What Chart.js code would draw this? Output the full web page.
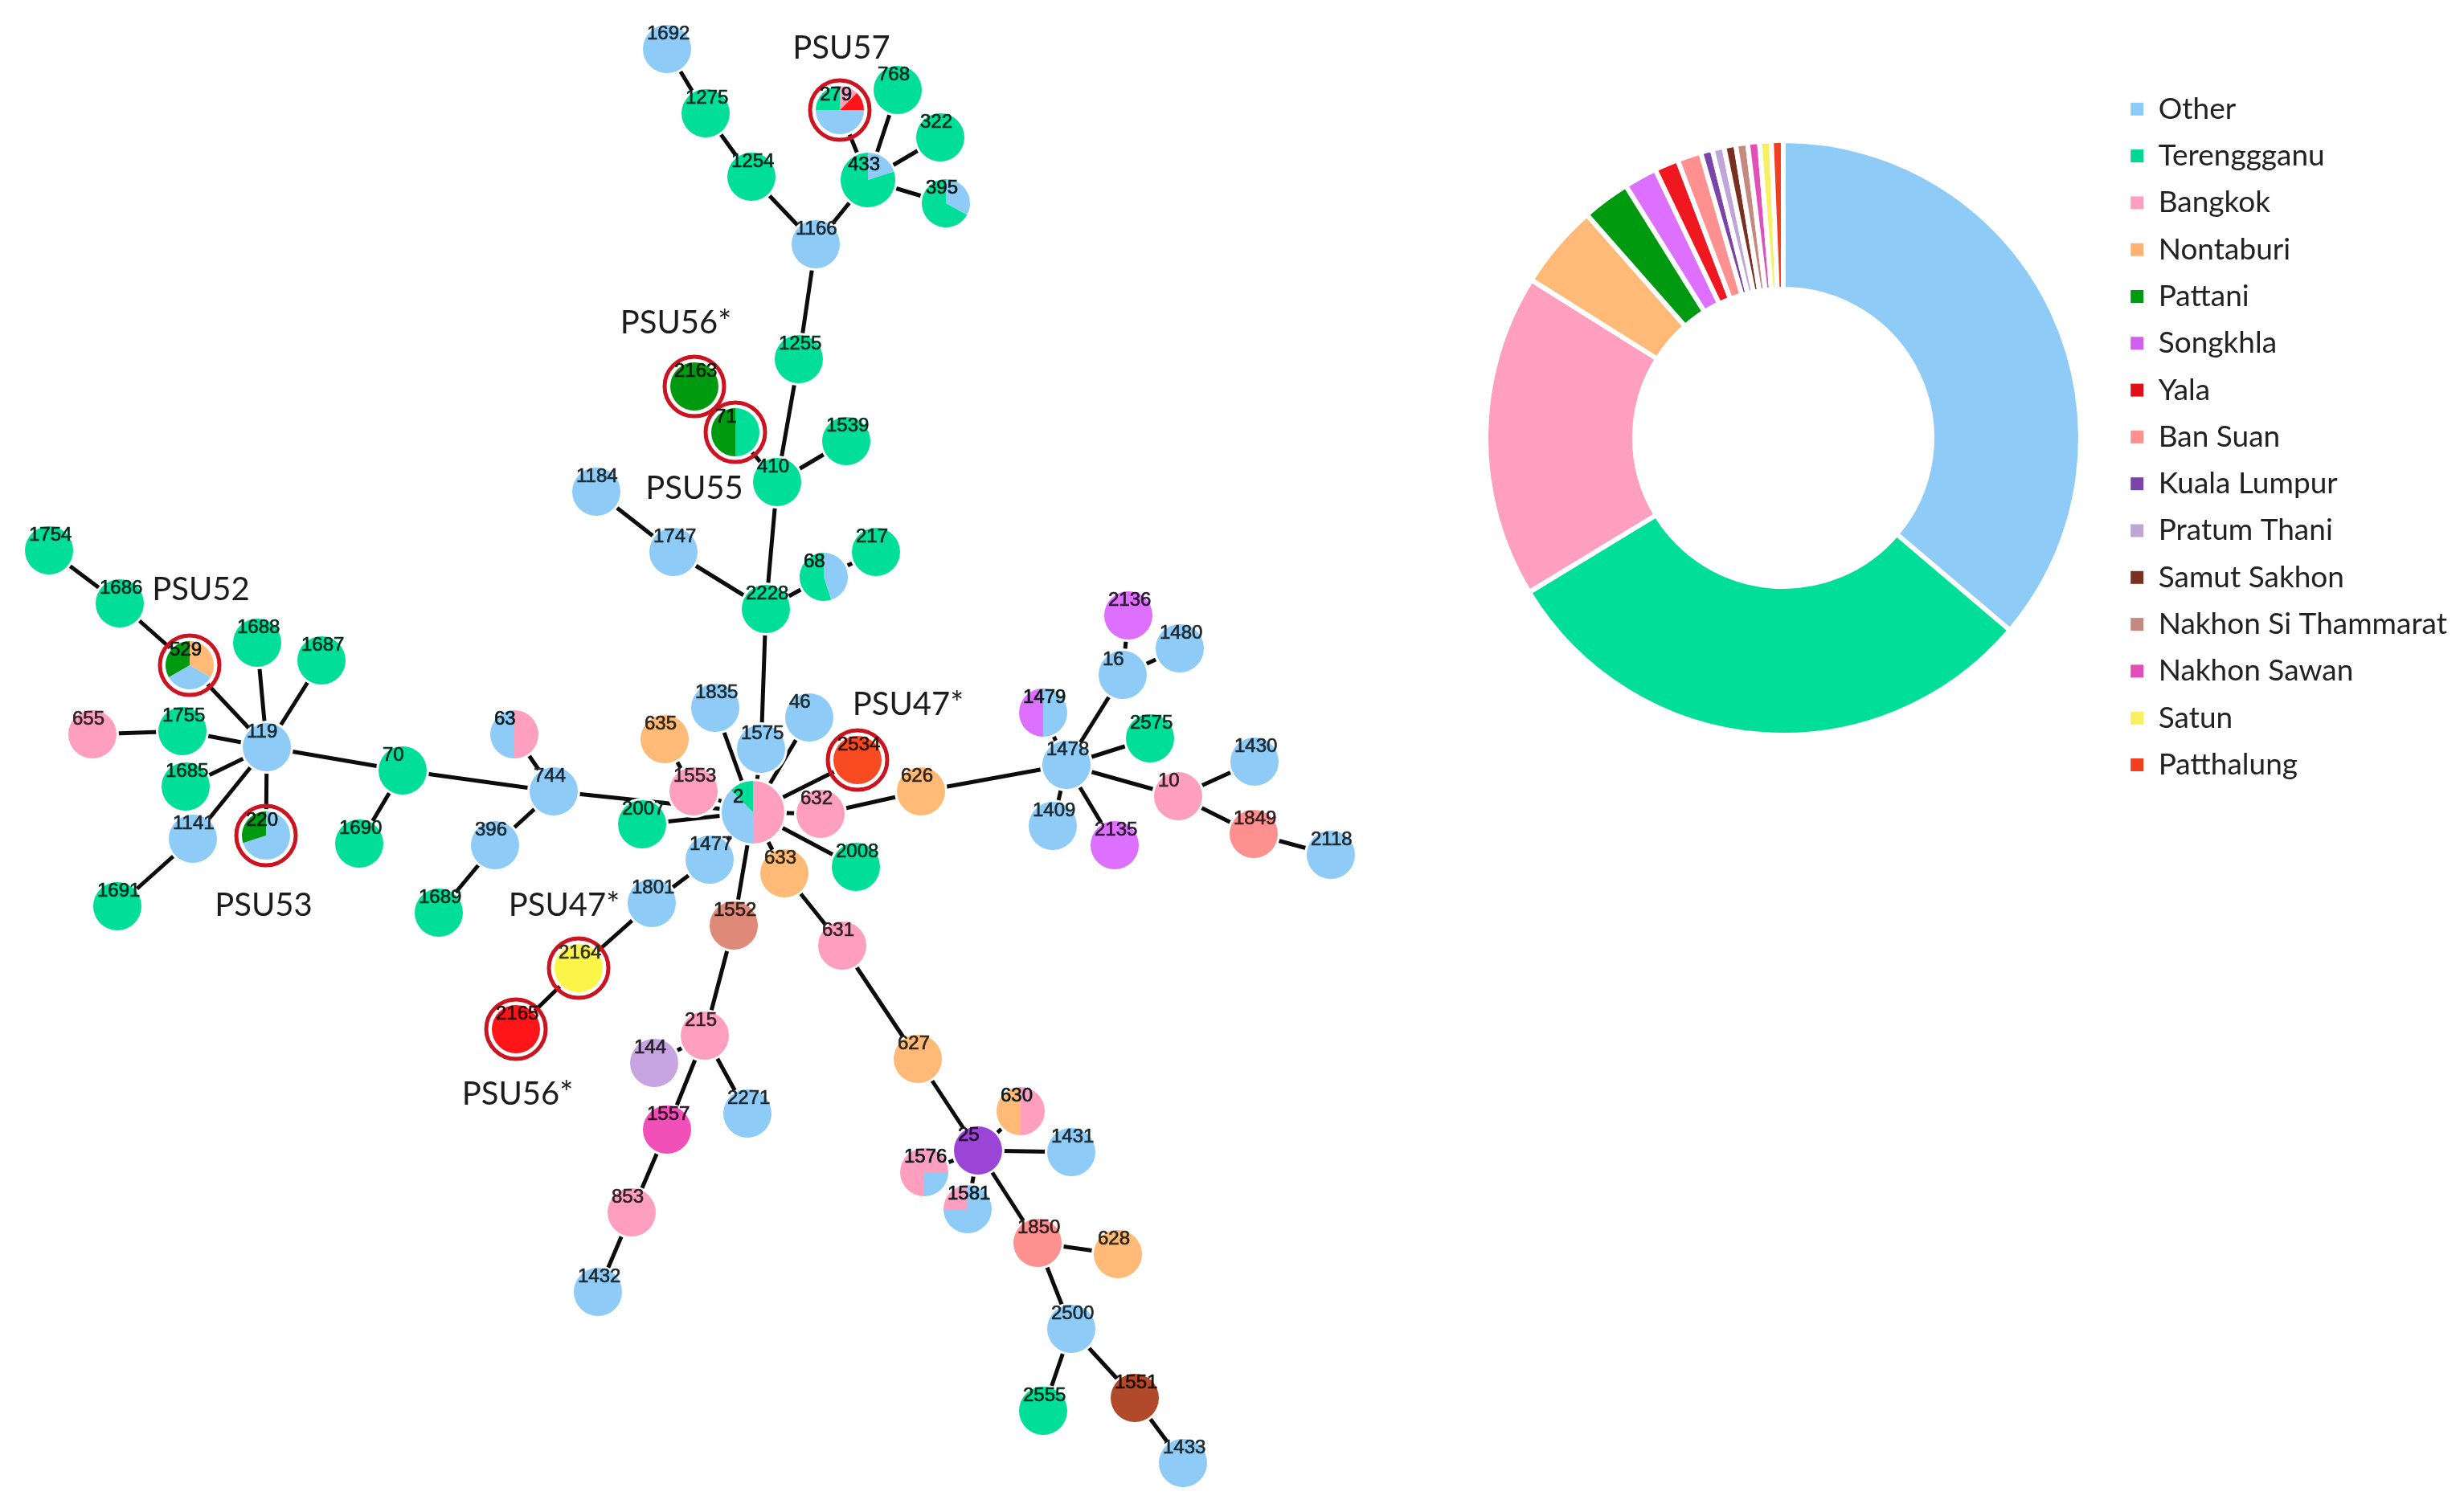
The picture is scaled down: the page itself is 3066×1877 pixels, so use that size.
<!DOCTYPE html>
<html>
<head>
<meta charset="utf-8">
<title>PSU network and province share</title>
<script src="https://cdn.jsdelivr.net/npm/chart.js@4"></script>
<style>
    body { margin: 0; background: #fff; }
    canvas { position: absolute; }
    #networkChart { left: 0; top: 0; }
    #shareChart { left: 1808px; top: 96px; }
</style>
</head>
<body>
<canvas id="networkChart" width="1800" height="1877"></canvas>
<canvas id="shareChart" width="1258" height="898"></canvas>
<script>
// Donut slices, clockwise from 12 o'clock (percent)
const provinces = ['Other', 'Terenggganu', 'Bangkok', 'Nontaburi', 'Pattani', 'Songkhla', 'Yala', 'Ban Suan',
    'Kuala Lumpur', 'Pratum Thani', 'Samut Sakhon', 'Nakhon Si Thammarat', 'Nakhon Sawan', 'Satun', 'Patthalung'];
const provinceShare = [36.2, 30.1, 17.6, 4.6, 2.6, 1.8, 1.3, 1.3, 0.64, 0.64, 0.64, 0.64, 0.64, 0.64, 0.64];
const donutColors = ['#8ecbf7', '#00de97', '#ff9fc0', '#ffba77', '#009a10', '#dd70ff', '#f01820', '#ff9090',
    '#7a45a8', '#c0a5d8', '#7a3020', '#c48a80', '#e050b8', '#f8f060', '#f04020'];
const legendColors = ['#8ecbf7', '#00d795', '#ff9fc0', '#ffb272', '#009a10', '#d060f0', '#e01018', '#ff9090',
    '#7a45a8', '#c0a5d8', '#7a3020', '#c48a80', '#e050b8', '#f8f060', '#f04020'];
const nodeColors = ['#8ecbf7', '#00de97', '#ff9fc0', '#ffba77', '#009a10', '#dd70ff', '#ff1418', '#ff9090',
    '#9a45d6', '#c8a5e0', '#b04a2a', '#df8a78', '#f050b8', '#fbf54a', '#f84a20'];

// Network nodes: sequence type, position, province index of single-colour nodes
const nodeIds = [1692, 1275, 1254, 1166, 433, 279, 768, 322, 395, 1255, 2163, 71, 410, 1539, 1184,
    1754, 1686, 529, 1688, 1687, 655, 1755, 119, 1685, 70, 63, 744, 635, 2007, 1141, 220, 1690, 396, 1691, 1689, 1801, 2164,
    1747, 2228, 68, 217, 2136, 1480, 16, 1835, 46, 1575, 1479, 2575, 1430, 2534, 1553, 2, 632, 626, 1478, 10, 1849, 1409, 2135, 2118,
    1477, 633, 2008, 1552, 631, 2165, 215, 144, 627, 1557, 2271, 630, 25, 1431, 1576, 1581, 853, 1850, 628, 1432, 2500, 2555, 1551, 1433];
const nodeX = [830, 878, 935, 1015, 1080, 1045, 1117, 1170, 1177, 994, 864, 915, 967, 1053, 742,
    61, 149, 236, 320, 400, 115, 227, 332, 231, 501, 640, 689, 827, 799, 240, 331, 447, 616, 146, 546, 811, 720,
    838, 953, 1025, 1090, 1404, 1468, 1397, 890, 1007, 947, 1298, 1431, 1561, 1067, 863, 937, 1021, 1146, 1327, 1466, 1560, 1310, 1387, 1656,
    883, 976, 1065, 913, 1048, 642, 877, 814, 1142, 830, 930, 1270, 1217, 1333, 1150, 1204, 786, 1291, 1391, 744, 1333, 1298, 1412, 1472];
const nodeY = [61, 141, 220, 304, 224, 137, 112, 171, 253, 447, 481, 538, 600, 549, 612,
    685, 751, 828, 800, 822, 914, 910, 930, 979, 959, 914, 985, 920, 1026, 1044, 1040, 1050, 1052, 1128, 1136, 1124, 1205,
    687, 758, 718, 687, 766, 807, 840, 881, 893, 932, 887, 919, 948, 946, 985, 1011, 1013, 985, 952, 991, 1038, 1028, 1052, 1064,
    1070, 1087, 1079, 1152, 1177, 1281, 1289, 1323, 1318, 1406, 1386, 1383, 1432, 1434, 1459, 1505, 1509, 1547, 1561, 1608, 1654, 1756, 1740, 1821];
const nodeProvince = [0, 1, 1, 0, 1, 0, 1, 1, 1, 1, 4, 1, 1, 1, 0,
    1, 1, 0, 1, 1, 2, 1, 0, 1, 1, 0, 0, 3, 1, 0, 0, 1, 0, 1, 1, 0, 13,
    0, 1, 1, 1, 5, 0, 0, 0, 0, 0, 0, 1, 0, 14, 2, 2, 2, 3, 0, 2, 7, 0, 5, 0,
    0, 3, 1, 11, 2, 6, 2, 9, 3, 12, 0, 3, 8, 0, 2, 0, 2, 7, 3, 0, 0, 1, 10, 0];

// Nodes holding several provinces: [province index, fraction], clockwise from 12 o'clock
const mixedNodes = {
    2: [[2, 0.5], [0, 0.375], [1, 0.125]],
    433: [[0, 0.2], [1, 0.8]],
    395: [[0, 0.33], [1, 0.67]],
    279: [[2, 0.125], [6, 0.125], [0, 0.5], [1, 0.25]],
    71: [[1, 0.5], [4, 0.5]],
    529: [[3, 0.333], [0, 0.333], [4, 0.334]],
    220: [[0, 0.7], [4, 0.3]],
    63: [[2, 0.5], [0, 0.5]],
    68: [[0, 0.45], [1, 0.55]],
    1479: [[0, 0.5], [5, 0.5]],
    630: [[2, 0.5], [3, 0.5]],
    1576: [[2, 0.25], [0, 0.25], [2, 0.5]],
    1581: [[0, 0.75], [2, 0.25]]
};

// Tree edges
const edgeFrom = [1692, 1275, 1254, 1166, 433, 433, 433, 433, 1166, 1255, 410, 410, 410, 1184, 1747, 2228, 68, 2228,
    1575, 1835, 46, 635, 1553, 2534, 632, 632, 626, 1478, 1478, 16, 16, 1478, 1478, 1478, 1478, 10, 10, 1849,
    2, 2, 1477, 1801, 2164, 2, 633, 631, 627, 25, 25, 25, 25, 25, 1850, 1850, 2500, 2500, 1551,
    2, 2, 1552, 215, 215, 215, 1557, 853, 2, 744, 744, 396, 744, 70, 70, 119, 529, 1686, 119, 119, 119, 1755, 119, 119, 1141, 119];
const edgeTo = [1275, 1254, 1166, 433, 279, 768, 322, 395, 1255, 410, 71, 1539, 2228, 1747, 2228, 68, 217, 1575,
    2, 2, 2, 1553, 2, 2, 2, 626, 1478, 1479, 16, 2136, 1480, 2575, 1409, 2135, 10, 1430, 1849, 2118,
    2007, 1477, 1801, 2164, 2165, 633, 631, 627, 25, 630, 1431, 1576, 1581, 1850, 628, 2500, 2555, 1551, 1433,
    2008, 1552, 215, 144, 2271, 1557, 853, 1432, 744, 63, 396, 1689, 70, 1690, 119, 529, 1686, 1754, 1688, 1687, 1755, 655, 1685, 1141, 1691, 220];

const ringedNodes = [279, 2163, 71, 529, 220, 2534, 2164, 2165];

const psuNames = ['PSU57', 'PSU56*', 'PSU55', 'PSU52', 'PSU53', 'PSU47*', 'PSU47*', 'PSU56*'];
const psuX = [1047, 841, 864, 250, 328, 702, 1130, 644];
const psuY = [60, 402, 608, 734, 1127, 1127, 877, 1362];

const largeNodes = { 2: 39, 433: 34 };

function nodeAt(id) {
    const i = nodeIds.indexOf(id);
    return { x: nodeX[i], y: nodeY[i] };
}

// Draws one node as a small pie, used as the point's image
function makeNodeImage(id, i) {
    const r = largeNodes[id] || 30;
    const halo = 3;
    const c = document.createElement('canvas');
    c.width = c.height = 2 * (r + halo);
    const g = c.getContext('2d');
    const mid = r + halo;
    g.fillStyle = '#fff';
    g.beginPath();
    g.arc(mid, mid, r + halo, 0, Math.PI * 2);
    g.fill();
    const parts = mixedNodes[id] || [[nodeProvince[i], 1]];
    let angle = -Math.PI / 2;
    parts.forEach(part => {
        const end = angle + part[1] * Math.PI * 2;
        g.fillStyle = nodeColors[part[0]];
        g.beginPath();
        g.moveTo(mid, mid);
        g.arc(mid, mid, r, angle, end);
        g.closePath();
        g.fill();
        angle = end;
    });
    return c;
}

function inkFor(id, i) {
    if (mixedNodes[id]) return '#0a1a1a';
    const hex = nodeColors[nodeProvince[i]];
    const ch = [1, 3, 5].map(k => Math.round(parseInt(hex.substr(k, 2), 16) * 0.2));
    return 'rgb(' + ch.join(',') + ')';
}

// Node numbers and PSU captions are placed through the chart's scales
const networkText = {
    id: 'networkText',
    afterDatasetsDraw(chart) {
        const { ctx, scales } = chart;
        ctx.save();
        ctx.textBaseline = 'middle';
        ctx.textAlign = 'left';
        ctx.font = '24px "Liberation Sans"';
        ctx.lineWidth = 0.7;
        nodeIds.forEach((id, i) => {
            const x = scales.x.getPixelForValue(nodeX[i]) - 25;
            const y = scales.y.getPixelForValue(nodeY[i]) - 19;
            ctx.fillStyle = inkFor(id, i);
            ctx.strokeStyle = ctx.fillStyle;
            ctx.fillText(String(id), x, y);
            ctx.strokeText(String(id), x, y);
        });
        ctx.textAlign = 'center';
        ctx.font = '40px Lato';
        ctx.fillStyle = '#1c1c1c';
        psuNames.forEach((name, i) => {
            ctx.fillText(name, scales.x.getPixelForValue(psuX[i]), scales.y.getPixelForValue(psuY[i]));
        });
        ctx.restore();
    }
};

const edgeSets = edgeFrom.map((from, i) => ({
    type: 'scatter',
    showLine: true,
    data: [nodeAt(from), nodeAt(edgeTo[i])],
    borderColor: '#0c0c0c',
    borderWidth: 5,
    pointRadius: 0
}));

new Chart(document.getElementById('networkChart'), {
    type: 'scatter',
    data: {
        datasets: [
            {
                data: ringedNodes.map(nodeAt),
                pointRadius: 37,
                pointBackgroundColor: 'rgba(0,0,0,0)',
                pointBorderColor: '#cc1420',
                pointBorderWidth: 5
            },
            {
                data: nodeIds.map((id, i) => ({ x: nodeX[i], y: nodeY[i] })),
                pointRadius: 30,
                pointStyle: nodeIds.map(makeNodeImage)
            },
            ...edgeSets
        ]
    },
    plugins: [networkText],
    options: {
        responsive: false,
        animation: false,
        devicePixelRatio: 1,
        layout: { padding: 0, autoPadding: false },
        scales: {
            x: { type: 'linear', display: false, min: 0, max: 1800 },
            y: { type: 'linear', display: false, min: 0, max: 1877, reverse: true }
        },
        plugins: { legend: { display: false }, tooltip: { enabled: false } }
    }
});

new Chart(document.getElementById('shareChart'), {
    type: 'doughnut',
    data: {
        labels: provinces,
        datasets: [{
            data: provinceShare,
            backgroundColor: donutColors,
            borderColor: '#fff',
            borderWidth: 6,
            radius: 370,
            cutout: '50%'
        }]
    },
    options: {
        responsive: false,
        animation: false,
        devicePixelRatio: 1,
        layout: { padding: { right: 11 }, autoPadding: false },
        plugins: {
            tooltip: { enabled: false },
            legend: {
                position: 'right',
                align: 'start',
                labels: {
                    boxWidth: 16,
                    boxHeight: 16,
                    padding: 21.3,
                    color: '#222',
                    font: { family: 'Lato', size: 37 },
                    generateLabels(chart) {
                        const items = Chart.overrides.doughnut.plugins.legend.labels.generateLabels(chart);
                        items.forEach((item, i) => {
                            item.fillStyle = legendColors[i];
                            item.strokeStyle = legendColors[i];
                            item.lineWidth = 0;
                        });
                        return items;
                    }
                }
            }
        }
    }
});
</script>
</body>
</html>
